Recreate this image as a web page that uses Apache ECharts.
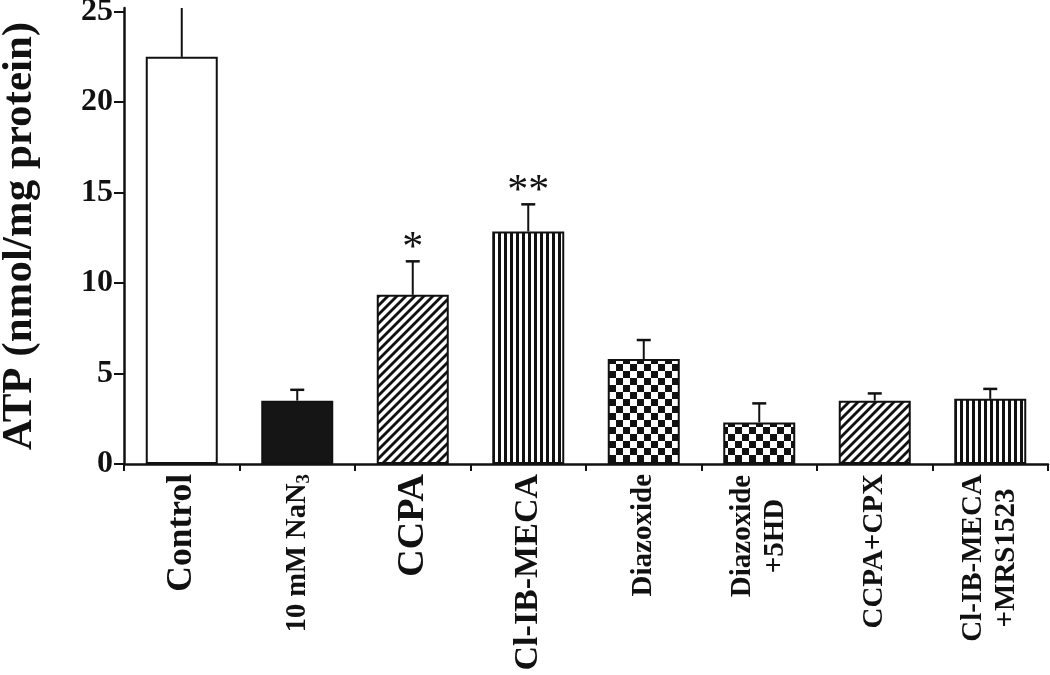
<!DOCTYPE html>
<html>
<head>
<meta charset="utf-8">
<script src="https://cdn.jsdelivr.net/npm/echarts@6/dist/echarts.min.js"></script>
<style>
html,body{margin:0;padding:0;background:#fff;}
#chart{width:1050px;height:675px;}
</style>
</head>
<body>
<div id="chart"></div>
<script>
// ---- data ----
var categories = ['Control', '10 mM NaN3', 'CCPA', 'Cl-IB-MECA', 'Diazoxide', 'Diazoxide +5HD', 'CCPA+CPX', 'Cl-IB-MECA +MRS1523'];
var atpMean = [22.5, 3.5, 9.35, 12.85, 5.8, 2.3, 3.5, 3.6];
var atpErrTop = [27.0, 4.1, 11.2, 14.35, 6.85, 3.35, 3.9, 4.15];
var significance = ['', '', '*', '**', '', '', '', ''];
var fillKinds = ['white', 'solid', 'diag', 'vert', 'check', 'check', 'diag', 'vert'];
var yTicks = [0, 5, 10, 15, 20, 25];

// ---- patterns ----
function makeCanvas(w, h) { var c = document.createElement('canvas'); c.width = w; c.height = h; return c; }
function diagPattern() {
  var s = 9, c = makeCanvas(s, s), g = c.getContext('2d');
  g.fillStyle = '#fff'; g.fillRect(0, 0, s, s);
  g.strokeStyle = '#111'; g.lineWidth = 2.8;
  [[-s, 0], [0, 0], [s, 0]].forEach(function (o) {
    g.beginPath(); g.moveTo(o[0] - 1, s + 1); g.lineTo(o[0] + s + 1, -1); g.stroke();
  });
  return c;
}
function vertPattern() {
  var c = makeCanvas(6, 4), g = c.getContext('2d');
  g.fillStyle = '#fff'; g.fillRect(0, 0, 6, 4);
  g.fillStyle = '#111'; g.fillRect(0, 0, 3, 4);
  return c;
}
function checkPattern() {
  var q = 7, c = makeCanvas(q * 2, q * 2), g = c.getContext('2d');
  g.fillStyle = '#fff'; g.fillRect(0, 0, q * 2, q * 2);
  g.fillStyle = '#111'; g.fillRect(0, 0, q, q); g.fillRect(q, q, q, q);
  return c;
}
var patterns = {
  white: '#ffffff',
  solid: '#151515',
  diag: { image: diagPattern(), repeat: 'repeat' },
  vert: { image: vertPattern(), repeat: 'repeat' },
  check: { image: checkPattern(), repeat: 'repeat' }
};

var serif = "'Liberation Serif', 'Times New Roman', serif";
var labelRich = {
  big: { fontSize: 35.5, fontWeight: 'bold', fontFamily: serif, color: '#111' },
  bigger: { fontSize: 38, fontWeight: 'bold', fontFamily: serif, color: '#111' },
  cl: { fontSize: 34, fontWeight: 'bold', fontFamily: serif, color: '#111' },
  mid: { fontSize: 28.5, fontWeight: 'bold', fontFamily: serif, color: '#111', lineHeight: 32 },
  sub: { fontSize: 19, fontWeight: 'bold', fontFamily: serif, color: '#111', verticalAlign: 'bottom', lineHeight: 10 },
  sm: { fontSize: 29, fontWeight: 'bold', fontFamily: serif, color: '#111' },
  dz: { fontSize: 29, fontWeight: 'bold', fontFamily: serif, color: '#111', width: 124, align: 'center', lineHeight: 33 },
  cm: { fontSize: 29, fontWeight: 'bold', fontFamily: serif, color: '#111', width: 168, align: 'center', lineHeight: 33 }
};
function formatLabel(v, i) {
  switch (i) {
    case 0: return '{big|Control}';
    case 1: return '{mid|10 mM NaN}{sub|3}';
    case 2: return '{bigger|CCPA}';
    case 3: return '{cl|Cl-IB-MECA}';
    case 4: return '{sm|Diazoxide}';
    case 5: return '{dz|Diazoxide}\n{dz|+5HD}';
    case 6: return '{sm|CCPA+CPX}';
    case 7: return '{cm|Cl-IB-MECA}\n{cm|+MRS1523}';
  }
  return v;
}

var chart = echarts.init(document.getElementById('chart'), null, { renderer: 'canvas' });
var option = {
  backgroundColor: '#ffffff',
  animation: false,
  grid: { left: 124, right: 2, top: 8, bottom: 211, containLabel: false, outerBoundsMode: 'none' },
  xAxis: {
    type: 'category',
    data: categories,
    boundaryGap: true,
    axisLine: { show: true, lineStyle: { color: '#111', width: 2.5 } },
    axisTick: { show: true, length: 7, inside: false, lineStyle: { color: '#111', width: 2 } },
    axisLabel: { rotate: 90, margin: 10, interval: 0, formatter: formatLabel, rich: labelRich }
  },
  yAxis: {
    type: 'value',
    min: 0,
    max: 25.2,
    splitLine: { show: false },
    axisLine: { show: true, lineStyle: { color: '#111', width: 2.5 } },
    axisTick: { show: true, length: 10, customValues: yTicks, lineStyle: { color: '#111', width: 2 } },
    axisLabel: { customValues: yTicks, margin: 11, fontSize: 32, fontWeight: 'bold', fontFamily: serif, color: '#111' },
    name: 'ATP (nmol/mg protein)',
    nameLocation: 'middle',
    nameRotate: 90,
    nameGap: 83,
    nameTextStyle: { fontSize: 43, fontWeight: 'bold', fontFamily: serif, color: '#111' }
  },
  series: [
    {
      type: 'bar',
      barWidth: 72,
      data: atpMean.map(function (v, i) {
        return { value: v, itemStyle: { color: patterns[fillKinds[i]], borderColor: '#111', borderWidth: 2 } };
      })
    },
    {
      type: 'custom',
      clip: true,
      z: 3,
      data: atpMean.map(function (v, i) { return [i, v, atpErrTop[i]]; }),
      renderItem: function (params, api) {
        var i = api.value(0);
        var p0 = api.coord([i, api.value(1)]);
        var p1 = api.coord([i, api.value(2)]);
        var half = 7;
        var children = [
          { type: 'line', shape: { x1: p0[0], y1: p0[1], x2: p1[0], y2: p1[1] }, style: { stroke: '#111', lineWidth: 2 } },
          { type: 'line', shape: { x1: p1[0] - half, y1: p1[1], x2: p1[0] + half, y2: p1[1] }, style: { stroke: '#111', lineWidth: 2.5 } }
        ];
        var star = significance[params.dataIndex];
        if (star) {
          children.push({
            type: 'text',
            x: p1[0], y: p1[1] + 9,
            style: { text: star, fontSize: 42, fontFamily: serif, fill: '#111', align: 'center', verticalAlign: 'bottom' }
          });
        }
        return { type: 'group', children: children };
      }
    }
  ]
};
chart.setOption(option);
</script>
</body>
</html>
